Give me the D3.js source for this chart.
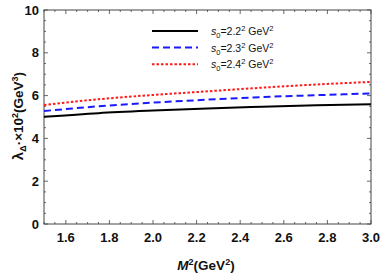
<!DOCTYPE html>
<html>
<head>
<meta charset="utf-8">
<script src="https://d3js.org/d3.v7.min.js"></script>
<style>
  body { margin: 0; background: #fff; }
  svg { display: block; font-family: "Liberation Sans", Arial, sans-serif; }
  .tick-label { font-size: 13px; font-weight: bold; fill: #111; }
  .legend text { font-size: 10.5px; fill: #111; }
</style>
</head>
<body>
<svg id="chart" width="382" height="273"></svg>
<script>
// M^2 values (GeV^2)
const msq = [1.5, 1.75, 2.0, 2.25, 2.5, 2.75, 3.0];
// lambda x 10^2 for each s0
const s0_22 = [5.01, 5.18, 5.30, 5.40, 5.48, 5.55, 5.60];
const s0_23 = [5.28, 5.50, 5.67, 5.81, 5.93, 6.02, 6.10];
const s0_24 = [5.56, 5.83, 6.03, 6.20, 6.37, 6.52, 6.64];
const xTicks = [1.6, 1.8, 2.0, 2.2, 2.4, 2.6, 2.8, 3.0];
const yTicks = [0, 2, 4, 6, 8, 10];
const legendNums = ["2.2", "2.3", "2.4"];

let margin = { top: 10, right: 11, bottom: 49, left: 44 };
let width = 382 - margin.left - margin.right;
let height = 273 - margin.top - margin.bottom;

let svg = d3.select("#chart");
let g = svg.append("g").attr("transform", `translate(${margin.left},${margin.top})`);

let x = d3.scaleLinear().domain([1.5, 3.0]).range([0, width]);
let y = d3.scaleLinear().domain([0, 10]).range([height, 0]);

const frameColor = "#444";

// minor ticks every 0.05 on x, every 0.5 on y
let xMinor = d3.range(1.5, 3.0001, 0.05).map(v => +v.toFixed(2));
let yMinor = d3.range(0, 10.001, 0.5);

function drawTicks() {
    xMinor.forEach(v => {
        let major = xTicks.some(t => Math.abs(t - v) < 1e-6);
        let len = major ? 4 : 2;
        g.append("line").attr("x1", x(v)).attr("x2", x(v)).attr("y1", height).attr("y2", height - len)
            .attr("stroke", frameColor).attr("stroke-width", 0.8);
        g.append("line").attr("x1", x(v)).attr("x2", x(v)).attr("y1", 0).attr("y2", len)
            .attr("stroke", frameColor).attr("stroke-width", 0.8);
    });
    yMinor.forEach(v => {
        let major = yTicks.some(t => Math.abs(t - v) < 1e-6);
        let len = major ? 4 : 2;
        g.append("line").attr("x1", 0).attr("x2", len).attr("y1", y(v)).attr("y2", y(v))
            .attr("stroke", frameColor).attr("stroke-width", 0.8);
        g.append("line").attr("x1", width).attr("x2", width - len).attr("y1", y(v)).attr("y2", y(v))
            .attr("stroke", frameColor).attr("stroke-width", 0.8);
    });
}
drawTicks();

// frame
g.append("rect").attr("x", 0).attr("y", 0).attr("width", width).attr("height", height)
    .attr("fill", "none").attr("stroke", frameColor).attr("stroke-width", 1);

// tick labels
g.selectAll(".xl").data(xTicks).enter().append("text")
    .attr("class", "tick-label")
    .attr("x", d => x(d)).attr("y", height + 18)
    .attr("text-anchor", "middle")
    .text(d => d.toFixed(1));

g.selectAll(".yl").data(yTicks).enter().append("text")
    .attr("class", "tick-label")
    .attr("x", -5).attr("y", d => y(d) + 4.5)
    .attr("text-anchor", "end")
    .text(d => d);

// curves
let line = d3.line()
    .x((d, i) => x(msq[i]))
    .y(d => y(d))
    .curve(d3.curveMonotoneX);

let series = [
    { data: s0_22, color: "#000", dash: null },
    { data: s0_23, color: "#1a1aff", dash: "7,4" },
    { data: s0_24, color: "#ff1a1a", dash: "2.5,2" }
];

series.forEach(s => {
    g.append("path").datum(s.data)
        .attr("d", line)
        .attr("fill", "none")
        .attr("stroke", s.color)
        .attr("stroke-width", 2)
        .attr("stroke-dasharray", s.dash);
});

// legend
let legend = svg.append("g").attr("class", "legend");
series.forEach((s, i) => {
    let ly = 31 + i * 16.6;
    legend.append("line")
        .attr("x1", 152).attr("x2", 198).attr("y1", ly).attr("y2", ly)
        .attr("stroke", s.color).attr("stroke-width", 2)
        .attr("stroke-dasharray", s.dash);
    let t = legend.append("text").attr("x", 211).attr("y", ly + 4);
    t.append("tspan").attr("font-style", "italic").text("s");
    t.append("tspan").attr("font-size", "7.5px").attr("dy", 3).text("0");
    t.append("tspan").attr("dy", -3).text("=" + legendNums[i]);
    t.append("tspan").attr("font-size", "7.5px").attr("dy", -4).text("2");
    t.append("tspan").attr("dy", 4).text(" GeV");
    t.append("tspan").attr("font-size", "7.5px").attr("dy", -4).text("2");
});

// x title
let xt = svg.append("text")
    .attr("x", 206).attr("y", 270)
    .attr("text-anchor", "middle")
    .attr("font-size", "13.5px").attr("font-weight", "bold").attr("fill", "#111");
xt.append("tspan").attr("font-style", "italic").text("M");
xt.append("tspan").attr("font-size", "9px").attr("dy", -5).text("2");
xt.append("tspan").attr("dy", 5).text("(GeV");
xt.append("tspan").attr("font-size", "9px").attr("dy", -5).text("2");
xt.append("tspan").attr("dy", 5).text(")");

// y title
let yt = svg.append("text")
    .attr("transform", "translate(23,116) rotate(-90)")
    .attr("text-anchor", "middle")
    .attr("font-size", "13.5px").attr("font-weight", "bold").attr("fill", "#111");
yt.append("tspan").attr("font-size", "15px").text("λ");
yt.append("tspan").attr("font-size", "9px").attr("dy", 3).text("Δ");
yt.append("tspan").attr("dy", -3).text("·×10");
yt.append("tspan").attr("font-size", "9px").attr("dy", -5).text("2");
yt.append("tspan").attr("dy", 5).text("(GeV");
yt.append("tspan").attr("font-size", "9px").attr("dy", -5).text("3");
yt.append("tspan").attr("dy", 5).text(")");
</script>
</body>
</html>
